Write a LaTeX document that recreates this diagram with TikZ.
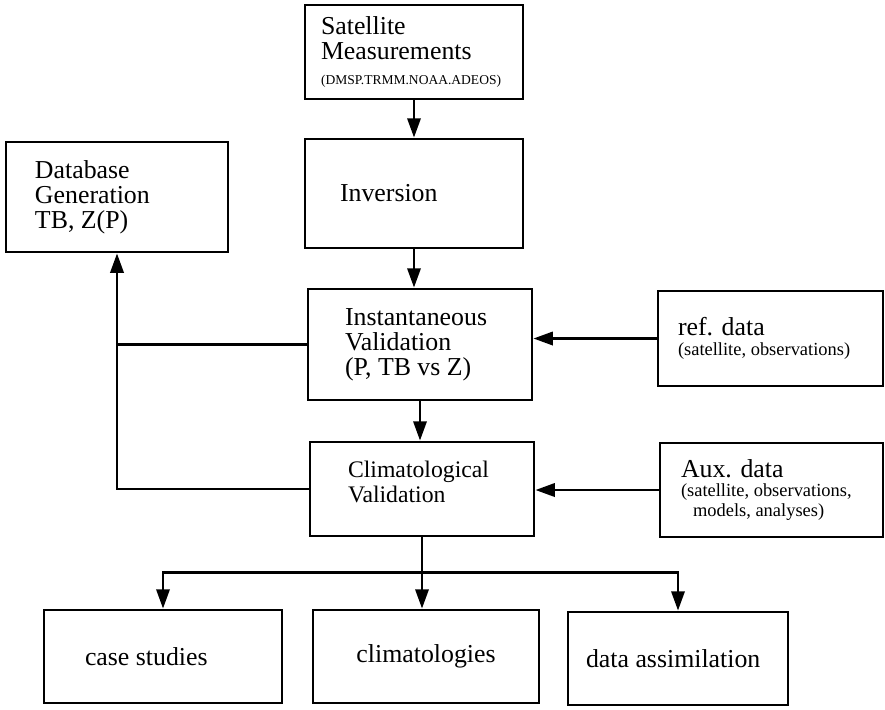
\documentclass[tikz,border=0pt]{standalone}
\usepackage{fontspec}
\setmainfont{Liberation Serif}
\usetikzlibrary{arrows.meta}
\newcommand\mainsize{\fontsize{14.7}{14.2}\selectfont}
\newcommand\subsize{\fontsize{10.5}{11}\selectfont}
\begin{document}
\begin{tikzpicture}[x=0.2mm, y=-0.2mm,
        >={Triangle[length=11pt,width=7.5pt]},
        line/.style={line width=1.6pt},
        block/.style={draw, line width=1.6pt, align=flush left, inner ysep=0pt, font=\mainsize}]
    \useasboundingbox (0,0) rectangle (885,709);
    % main chain
    \node[block, minimum width=43.6mm, minimum height=18.8mm, inner xsep=3.2mm, text width=37.2mm] (sat) at (414,52)
        {Satellite\\Measurements\\{\fontsize{7.7}{9}\selectfont (DMSP.TRMM.NOAA.ADEOS)}};
    \node[block, minimum width=43.6mm, minimum height=21.8mm, inner xsep=7mm, text width=29.6mm] (inv) at (414,193.5) {Inversion};
    \node[block, minimum width=44.8mm, minimum height=22.2mm, inner xsep=7.4mm, text width=30mm] (inst) at (420,344.5)
        {Instantaneous\\Validation\\(P, TB vs Z)};
    \node[block, minimum width=44.8mm, minimum height=18.8mm, inner xsep=7.6mm, text width=29.6mm, text depth=22pt,
        font=\fontsize{13.5}{14.2}\selectfont] (clim) at (422,489) {Climatological\\Validation};
    % side boxes
    \node[block, minimum width=44.4mm, minimum height=22mm, inner xsep=5.8mm, text width=32.8mm] (db) at (117,197)
        {Database\\Generation\\TB, Z(P)};
    \node[block, minimum width=45mm, minimum height=19mm, inner xsep=4mm, text width=37mm, font=\subsize] (ref) at (770.5,338.5)
        {{\mainsize ref. data}\\(satellite, observations)};
    \node[block, minimum width=44.6mm, minimum height=18.8mm, inner xsep=4.2mm, text width=36.2mm, font=\subsize] (aux) at (771.5,490)
        {{\mainsize Aux. data}\\(satellite, observations,\\\hspace*{2.4mm}models, analyses)};
    % products
    \node[block, minimum width=47.6mm, minimum height=18.6mm, inner xsep=8.2mm, text width=31.2mm] (case) at (163,656.5) {case studies};
    \node[block, minimum width=45.2mm, minimum height=18.6mm, inner xsep=8.2mm, text width=28.8mm, align=flush center] (clims) at (426,656.5) {climatologies};
    \node[block, minimum width=44mm, minimum height=18.6mm, inner xsep=3.6mm, text width=36.8mm] (assim) at (678,658.5) {data assimilation};
    % connectors
    \draw[line,->] (sat) -- (inv);
    \draw[line,->] (inv) -- (inv |- inst.north);
    \draw[line,->] (inst) -- (inst |- clim.north);
    \draw[line,->] (ref) -- (ref -| inst.east);
    \draw[line,->] (aux) -- (aux -| clim.east);
    \draw[line,->] (inst.west) -| (db.south);
    \draw[line] (clim.west) -| (inst.west -| db.south);
    \path (clim.south) ++(0,35) coordinate (fork);
    \draw[line] (clim.south) -- (fork);
    \draw[line,->] (fork) -- (fork |- clims.north);
    \draw[line,->] (fork) -| (case.north);
    \draw[line,->] (fork) -| (assim.north);
\end{tikzpicture}
\end{document}
